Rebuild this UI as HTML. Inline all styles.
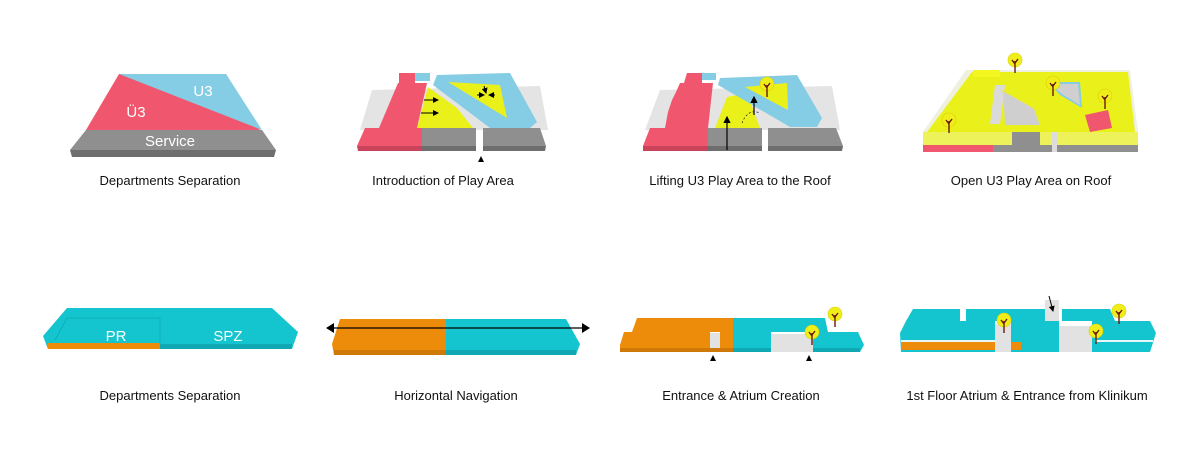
<!DOCTYPE html>
<html><head><meta charset="utf-8"><style>
html,body{margin:0;padding:0;background:#fff;width:1200px;height:461px;overflow:hidden}
text{font-family:"Liberation Sans",sans-serif}
</style></head><body>
<svg width="1200" height="461" viewBox="0 0 1200 461" xmlns="http://www.w3.org/2000/svg">
<defs>
<marker id="ah" markerWidth="6" markerHeight="6" refX="5" refY="3" orient="auto"><path d="M0,0 L6,3 L0,6 z" fill="#000"/></marker>
<g id="tree"><circle cx="0" cy="-4" r="7" fill="#f0ee1a" stroke="#d8d000" stroke-width="0.6"/><path d="M0,9 L0,-3 M0,0 L-3,-4 M0,-1 L3,-5" stroke="#6a1a10" stroke-width="1.4" fill="none"/></g>
</defs>

<!-- Panel 1 -->
<polygon points="70,150 72,157 274,157 276,150" fill="#6e6e6e"/>
<polygon points="119,74 226,74 260,130 86,130" fill="#f0566d"/>
<polygon points="119,74 226,74 262,130" fill="#84cde4"/>
<polygon points="86,130 262,130 276,150 70,150" fill="#8f8f8f"/>
<text x="203" y="96" fill="#fff" font-size="15" text-anchor="middle">U3</text>
<text x="136" y="117" fill="#fff" font-size="15" text-anchor="middle">Ü3</text>
<text x="170" y="146" fill="#fff" font-size="15" text-anchor="middle">Service</text>

<!-- Panel 2 -->
<polygon points="372,90 540,86 548,130 360,130" fill="#e4e4e4"/>
<polygon points="399,73 415,73 415,83 399,83" fill="#f0566d"/>
<polygon points="415,73 430,73 430,81 415,81" fill="#84cde4"/>
<polygon points="398,83 427,83 417,128 379,128" fill="#f0566d"/>
<polygon points="428,87 457,108 473,128 417,128" fill="#eaf11a"/>
<polygon points="437,75 510,73 537,122 530,128 490,128 433,85" fill="#84cde4"/>
<polygon points="448,82 500,85 507,118" fill="#eaf11a"/>
<polygon points="365,128 422,128 422,146 357,146" fill="#f0566d"/>
<polygon points="357,146 422,146 422,151 358,151" fill="#c9445a"/>
<rect x="422" y="128" width="54" height="18" fill="#8f8f8f"/><rect x="422" y="146" width="54" height="5" fill="#6e6e6e"/>
<polygon points="483,128 540,128 546,146 483,146" fill="#8f8f8f"/><polygon points="483,146 546,146 545,151 483,151" fill="#6e6e6e"/>
<g stroke="#000" stroke-width="1" marker-end="url(#ah)"><line x1="424" y1="100" x2="438" y2="100"/><line x1="421" y1="113" x2="438" y2="113"/><line x1="477" y1="95" x2="484" y2="95"/><line x1="495" y1="95" x2="489" y2="95"/><line x1="484" y1="86" x2="486" y2="93"/></g>
<polygon points="478,162 484,162 481,156" fill="#000"/>

<!-- Panel 3 -->
<polygon points="660,90 832,86 840,130 645,130" fill="#e4e4e4"/>
<polygon points="687,73 702,73 702,83 684,83" fill="#f0566d"/>
<polygon points="702,73 716,73 716,80 702,80" fill="#84cde4"/>
<polygon points="680,83 713,83 708,128 665,128 668,112 672,100 676,92" fill="#f0566d"/>
<polygon points="727,97 747,93 760,128 715,128" fill="#eaf11a"/>
<polygon points="720,78 797,75 822,118 817,127 790,127 718,85" fill="#84cde4"/>
<polygon points="745,87 787,83 788,110" fill="#eaf11a"/>
<use href="#tree" x="767" y="88"/>
<polygon points="650,128 708,128 708,146 643,146" fill="#f0566d"/><rect x="643" y="146" width="65" height="5" fill="#c9445a"/>
<rect x="708" y="128" width="54" height="18" fill="#8f8f8f"/><rect x="708" y="146" width="54" height="5" fill="#6e6e6e"/>
<polygon points="768,128 836,128 843,146 768,146" fill="#8f8f8f"/><polygon points="768,146 843,146 842,151 768,151" fill="#6e6e6e"/>
<g stroke="#000" stroke-width="1.2" marker-end="url(#ah)"><line x1="727" y1="150" x2="727" y2="117"/><line x1="754" y1="115" x2="754" y2="97"/></g>
<path d="M742,123 Q748,108 760,113" stroke="#000" stroke-width="0.6" stroke-dasharray="2,2" fill="none"/>

<!-- Panel 4 -->
<polygon points="966,70 1130,70 1138,132 923,132" fill="#eef0e0"/>
<polygon points="972,72 1128,72 1135,132 927,132" fill="#eaf11a"/>
<polygon points="995,85 1005,85 1000,124 990,124" fill="#dadada"/>
<polygon points="1003,90 1030,98 1040,125 1005,125" fill="#cfcfcf"/>
<polygon points="1048,82 1080,82 1082,108 1060,95" fill="#84cde4"/>
<polygon points="1050,84 1078,84 1080,105 1062,94" fill="#cfcfcf"/>
<polygon points="1000,90 1040,98 1060,112 1040,112 1010,95" fill="#eaf11a"/>
<polygon points="973,70 1000,70 1000,77 973,77" fill="#f4f620"/>
<rect x="923" y="132" width="215" height="13" fill="#eef25a"/>
<rect x="923" y="145" width="70" height="7" fill="#f0566d"/><rect x="993" y="145" width="145" height="7" fill="#8f8f8f"/>
<polygon points="1012,132 1040,132 1040,152 1012,152" fill="#8f8f8f"/>
<rect x="1052" y="132" width="5" height="20" fill="#dcdcdc"/>
<polygon points="1085,115 1108,110 1112,128 1090,132" fill="#f0566d"/>
<use href="#tree" x="1015" y="64"/><use href="#tree" x="1053" y="87"/><use href="#tree" x="1105" y="100"/><use href="#tree" x="949" y="124"/>

<!-- Labels row 1 -->
<g font-size="13" fill="#111" text-anchor="middle">
<text x="170" y="185">Departments Separation</text>
<text x="443" y="185">Introduction of Play Area</text>
<text x="740" y="185">Lifting U3 Play Area to the Roof</text>
<text x="1031" y="185">Open U3 Play Area on Roof</text>
</g>

<!-- Panel 5 -->
<polygon points="43,336 67,308 272,308 298,332 292,349 48,349" fill="#14c5cf"/>
<polygon points="48,344 292,344 292,349 48,349" fill="#10a8b2"/>
<rect x="48" y="343" width="112" height="6" fill="#ec8c0a"/>
<path d="M55,340 L67,318 L160,318 L160,343" stroke="#0fa9b3" stroke-width="0.8" fill="none"/>
<text x="116" y="341" fill="#fff" font-size="15" text-anchor="middle">PR</text>
<text x="228" y="341" fill="#fff" font-size="15" text-anchor="middle">SPZ</text>

<!-- Panel 6 -->
<polygon points="340,319 446,319 446,355 334,355 332,344" fill="#ec8c0a"/>
<polygon points="446,319 566,319 580,344 576,355 446,355" fill="#14c5cf"/>
<rect x="334" y="350" width="112" height="5" fill="#cf7a08"/><rect x="446" y="350" width="130" height="5" fill="#10a8b2"/>
<line x1="330" y1="328" x2="585" y2="328" stroke="#000" stroke-width="1.2"/>
<polygon points="326,328 334,323 334,333" fill="#000"/><polygon points="590,328 582,323 582,333" fill="#000"/>

<!-- Panel 7 -->
<polygon points="637,318 733,318 733,332 632,332" fill="#ec8c0a"/>
<polygon points="733,318 825,318 828,332 733,332" fill="#14c5cf"/>
<polygon points="624,332 710,332 710,352 620,352 620,345" fill="#ec8c0a"/>
<rect x="710" y="333" width="10" height="19" fill="#e2e2e2"/>
<rect x="720" y="332" width="13" height="20" fill="#ec8c0a"/>
<rect x="733" y="332" width="38" height="20" fill="#14c5cf"/>
<rect x="771" y="334" width="42" height="18" fill="#e2e2e2"/>
<polygon points="813,332 858,332 864,345 860,352 813,352" fill="#14c5cf"/>
<rect x="620" y="348" width="113" height="4" fill="#cf7a08"/><rect x="733" y="348" width="38" height="4" fill="#10a8b2"/><rect x="813" y="348" width="47" height="4" fill="#10a8b2"/>
<use href="#tree" x="835" y="318"/><use href="#tree" x="812" y="336"/>
<polygon points="710,361 716,361 713,355" fill="#000"/><polygon points="806,361 812,361 809,355" fill="#000"/>

<!-- Panel 8 -->
<polygon points="913,309 960,309 960,321 906,321" fill="#14c5cf"/>
<polygon points="966,309 1045,309 1045,321 966,321" fill="#14c5cf"/>
<polygon points="1062,309 1110,309 1115,321 1062,321" fill="#14c5cf"/>
<rect x="1045" y="300" width="14" height="24" fill="#e2e2e2"/>
<polygon points="906,321 995,321 995,352 901,352 900,333" fill="#14c5cf"/>
<rect x="995" y="324" width="16" height="28" fill="#e2e2e2"/>
<rect x="1011" y="321" width="48" height="31" fill="#14c5cf"/>
<rect x="1059" y="326" width="33" height="26" fill="#e2e2e2"/>
<polygon points="1092,321 1150,321 1156,333 1150,352 1092,352" fill="#14c5cf"/>
<rect x="901" y="340" width="94" height="2" fill="#e8f8fa"/>
<rect x="901" y="342" width="94" height="8" fill="#ec8c0a"/>
<rect x="1011" y="342" width="10" height="8" fill="#ec8c0a"/>
<rect x="1095" y="340" width="58" height="2" fill="#e8f8fa"/>
<line x1="1049" y1="296" x2="1053" y2="311" stroke="#000" stroke-width="1" marker-end="url(#ah)"/>
<use href="#tree" x="1004" y="324"/><use href="#tree" x="1119" y="315"/><use href="#tree" x="1096" y="335"/>

<!-- Labels row 2 -->
<g font-size="13" fill="#111" text-anchor="middle">
<text x="170" y="400">Departments Separation</text>
<text x="456" y="400">Horizontal Navigation</text>
<text x="741" y="400">Entrance &amp; Atrium Creation</text>
<text x="1027" y="400">1st Floor Atrium &amp; Entrance from Klinikum</text>
</g>
</svg>
</body></html>
